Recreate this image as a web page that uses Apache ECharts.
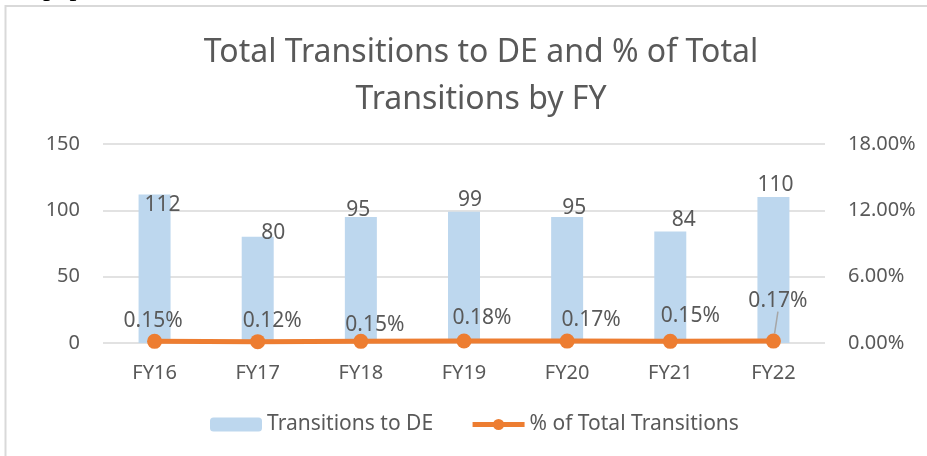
<!DOCTYPE html>
<html>
<head>
<meta charset="utf-8">
<script src="https://cdn.jsdelivr.net/npm/echarts@6/dist/echarts.min.js"></script>
<style>
html,body{margin:0;padding:0;background:#fff;}
#c{width:927px;height:456px;}
</style>
</head>
<body>
<div id="c"></div>
<script>
const categories = ['FY16', 'FY17', 'FY18', 'FY19', 'FY20', 'FY21', 'FY22'];
const transitionsToDE = [112, 80, 95, 99, 95, 84, 110];
const pctOfTotal = [0.15, 0.12, 0.15, 0.18, 0.17, 0.15, 0.17];
const leftTicks = { min: 0, max: 150, interval: 50 };
const rightTicks = { min: 0, max: 18, interval: 6 };

// label placement tweaks (style only)
const barLabelOffsets = [[8, 21], [15.5, 7], [-2.5, 3.5], [6, -1], [7, 1.5], [13.5, -1], [2, -1.5]];
const lineLabelOffsets = [[-1.5, -20], [14.5, -21], [14, -16], [18, -23], [24, -21], [20, -25], [4.5, -40]];

const textColor = '#595959';
const font = 'Noto Sans';

const chart = echarts.init(document.getElementById('c'), null, { renderer: 'canvas' });
chart.setOption({
  animation: false,
  backgroundColor: '#fff',
  textStyle: { fontFamily: font },
  graphic: [
    { type: 'rect', shape: { x: 5.5, y: 6, width: 1000, height: 1000 }, style: { fill: 'none', stroke: '#D9D9D9', lineWidth: 2 }, silent: true },
    { type: 'text', left: 43, top: -26, style: { text: 'pap', font: '28px "Liberation Serif"', fill: '#000' }, silent: true }
  ],
  title: {
    text: 'Total Transitions to DE and % of Total\nTransitions by FY',
    left: 476,
    textAlign: 'center',
    top: 24,
    textStyle: { fontFamily: font, fontSize: 32, fontWeight: 'normal', color: textColor, lineHeight: 47 }
  },
  legend: {
    left: 205,
    top: 409,
    itemWidth: 52,
    itemHeight: 14,
    itemGap: 37,
    textStyle: { fontFamily: font, fontSize: 21, color: textColor },
    data: [
      { name: 'Transitions to DE' },
      { name: '% of Total Transitions', lineStyle: { width: 5 } }
    ]
  },
  grid: { left: 103, right: 102, top: 144, bottom: 113, containLabel: false },
  xAxis: {
    type: 'category',
    data: categories,
    axisLine: { show: false },
    axisTick: { show: false },
    axisLabel: { fontFamily: font, fontSize: 20, color: textColor, margin: 20 }
  },
  yAxis: [
    {
      type: 'value', min: leftTicks.min, max: leftTicks.max, interval: leftTicks.interval,
      axisLine: { show: false }, axisTick: { show: false },
      splitLine: { lineStyle: { color: '#D9D9D9', width: 1.5 } },
      axisLabel: { fontFamily: font, fontSize: 20, color: textColor, margin: 23 }
    },
    {
      type: 'value', min: rightTicks.min, max: rightTicks.max, interval: rightTicks.interval,
      axisLine: { show: false }, axisTick: { show: false },
      splitLine: { show: false },
      axisLabel: { fontFamily: font, fontSize: 20, color: textColor, margin: 23, formatter: v => v.toFixed(2) + '%' }
    }
  ],
  series: [
    {
      name: 'Transitions to DE',
      type: 'bar',
      barWidth: 32,
      itemStyle: { color: '#BDD7EE' },
      label: { show: true, position: 'top', distance: 0, fontFamily: font, fontSize: 21, color: textColor },
      data: transitionsToDE.map((v, i) => ({ value: v, label: { offset: barLabelOffsets[i] } }))
    },
    {
      name: '% of Total Transitions',
      type: 'line',
      yAxisIndex: 1,
      symbol: 'circle',
      symbolSize: 15,
      lineStyle: { color: '#ED7D31', width: 5 },
      itemStyle: { color: '#ED7D31' },
      label: { show: true, position: 'inside', fontFamily: font, fontSize: 21, color: textColor, formatter: p => p.value.toFixed(2) + '%' },
      labelLine: { show: false },
      data: pctOfTotal.map((v, i) => {
        const d = { value: v, label: { offset: lineLabelOffsets[i] } };
        if (i === pctOfTotal.length - 1) d.labelLine = { show: true, lineStyle: { color: '#A6A6A6', width: 1.5 } };
        return d;
      }),
      z: 3
    }
  ]
});
</script>
</body>
</html>
